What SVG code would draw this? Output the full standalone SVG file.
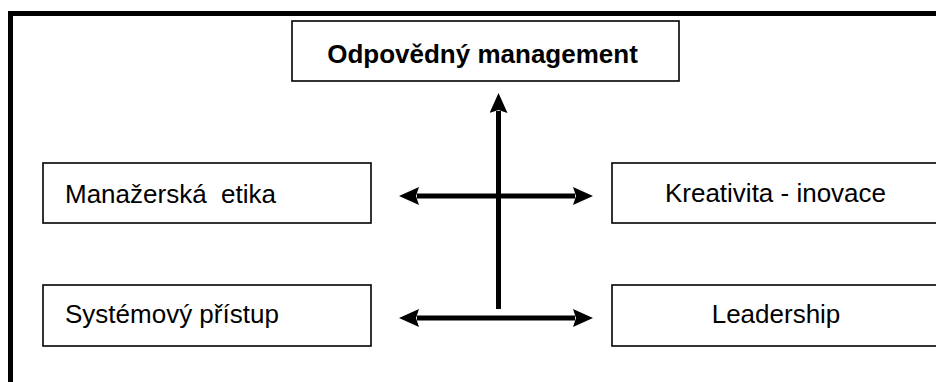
<svg xmlns="http://www.w3.org/2000/svg" width="936" height="382" viewBox="0 0 936 382">
<defs>
<style>
.box{fill:#fff;stroke:#000;stroke-width:1.6}
.t{font-family:"Liberation Sans",Arial,sans-serif;font-size:26px;fill:#000}
.b{font-weight:bold}
.c{stroke:#000;stroke-width:5;fill:none}
</style>
<marker id="ah" markerUnits="userSpaceOnUse" markerWidth="20" markerHeight="18" refX="2" refY="9" orient="auto-start-reverse" viewBox="0 0 20 18">
<path d="M0,0 L20,9 L0,18 L3,9 z" fill="#000"/>
</marker>
</defs>
<rect x="0" y="0" width="936" height="382" fill="#fff"/>
<rect x="10.5" y="13.5" width="940" height="400" fill="none" stroke="#000" stroke-width="5"/>
<g id="connectors">
<line class="c" x1="498.5" y1="309" x2="498.5" y2="111" marker-end="url(#ah)"/>
<line class="c" x1="417" y1="196" x2="575" y2="196" marker-start="url(#ah)" marker-end="url(#ah)"/>
<line class="c" x1="417" y1="318" x2="575" y2="318" marker-start="url(#ah)" marker-end="url(#ah)"/>
</g>
<g id="odpovedny">
<rect class="box" x="292" y="21" width="387" height="60"/>
<text class="t b" x="482.5" y="63" text-anchor="middle">Odpovědný management</text>
</g>
<g id="etika">
<rect class="box" x="43" y="163" width="328" height="60"/>
<text class="t" x="65" y="203" xml:space="preserve">Manažerská  etika</text>
</g>
<g id="kreativita">
<rect class="box" x="612" y="163" width="340" height="60"/>
<text class="t" x="775.5" y="202" text-anchor="middle">Kreativita - inovace</text>
</g>
<g id="systemovy">
<rect class="box" x="43" y="285" width="328" height="61"/>
<text class="t" x="65" y="323">Systémový přístup</text>
</g>
<g id="leadership">
<rect class="box" x="612" y="285" width="340" height="61"/>
<text class="t" x="776" y="323" text-anchor="middle">Leadership</text>
</g>
</svg>
